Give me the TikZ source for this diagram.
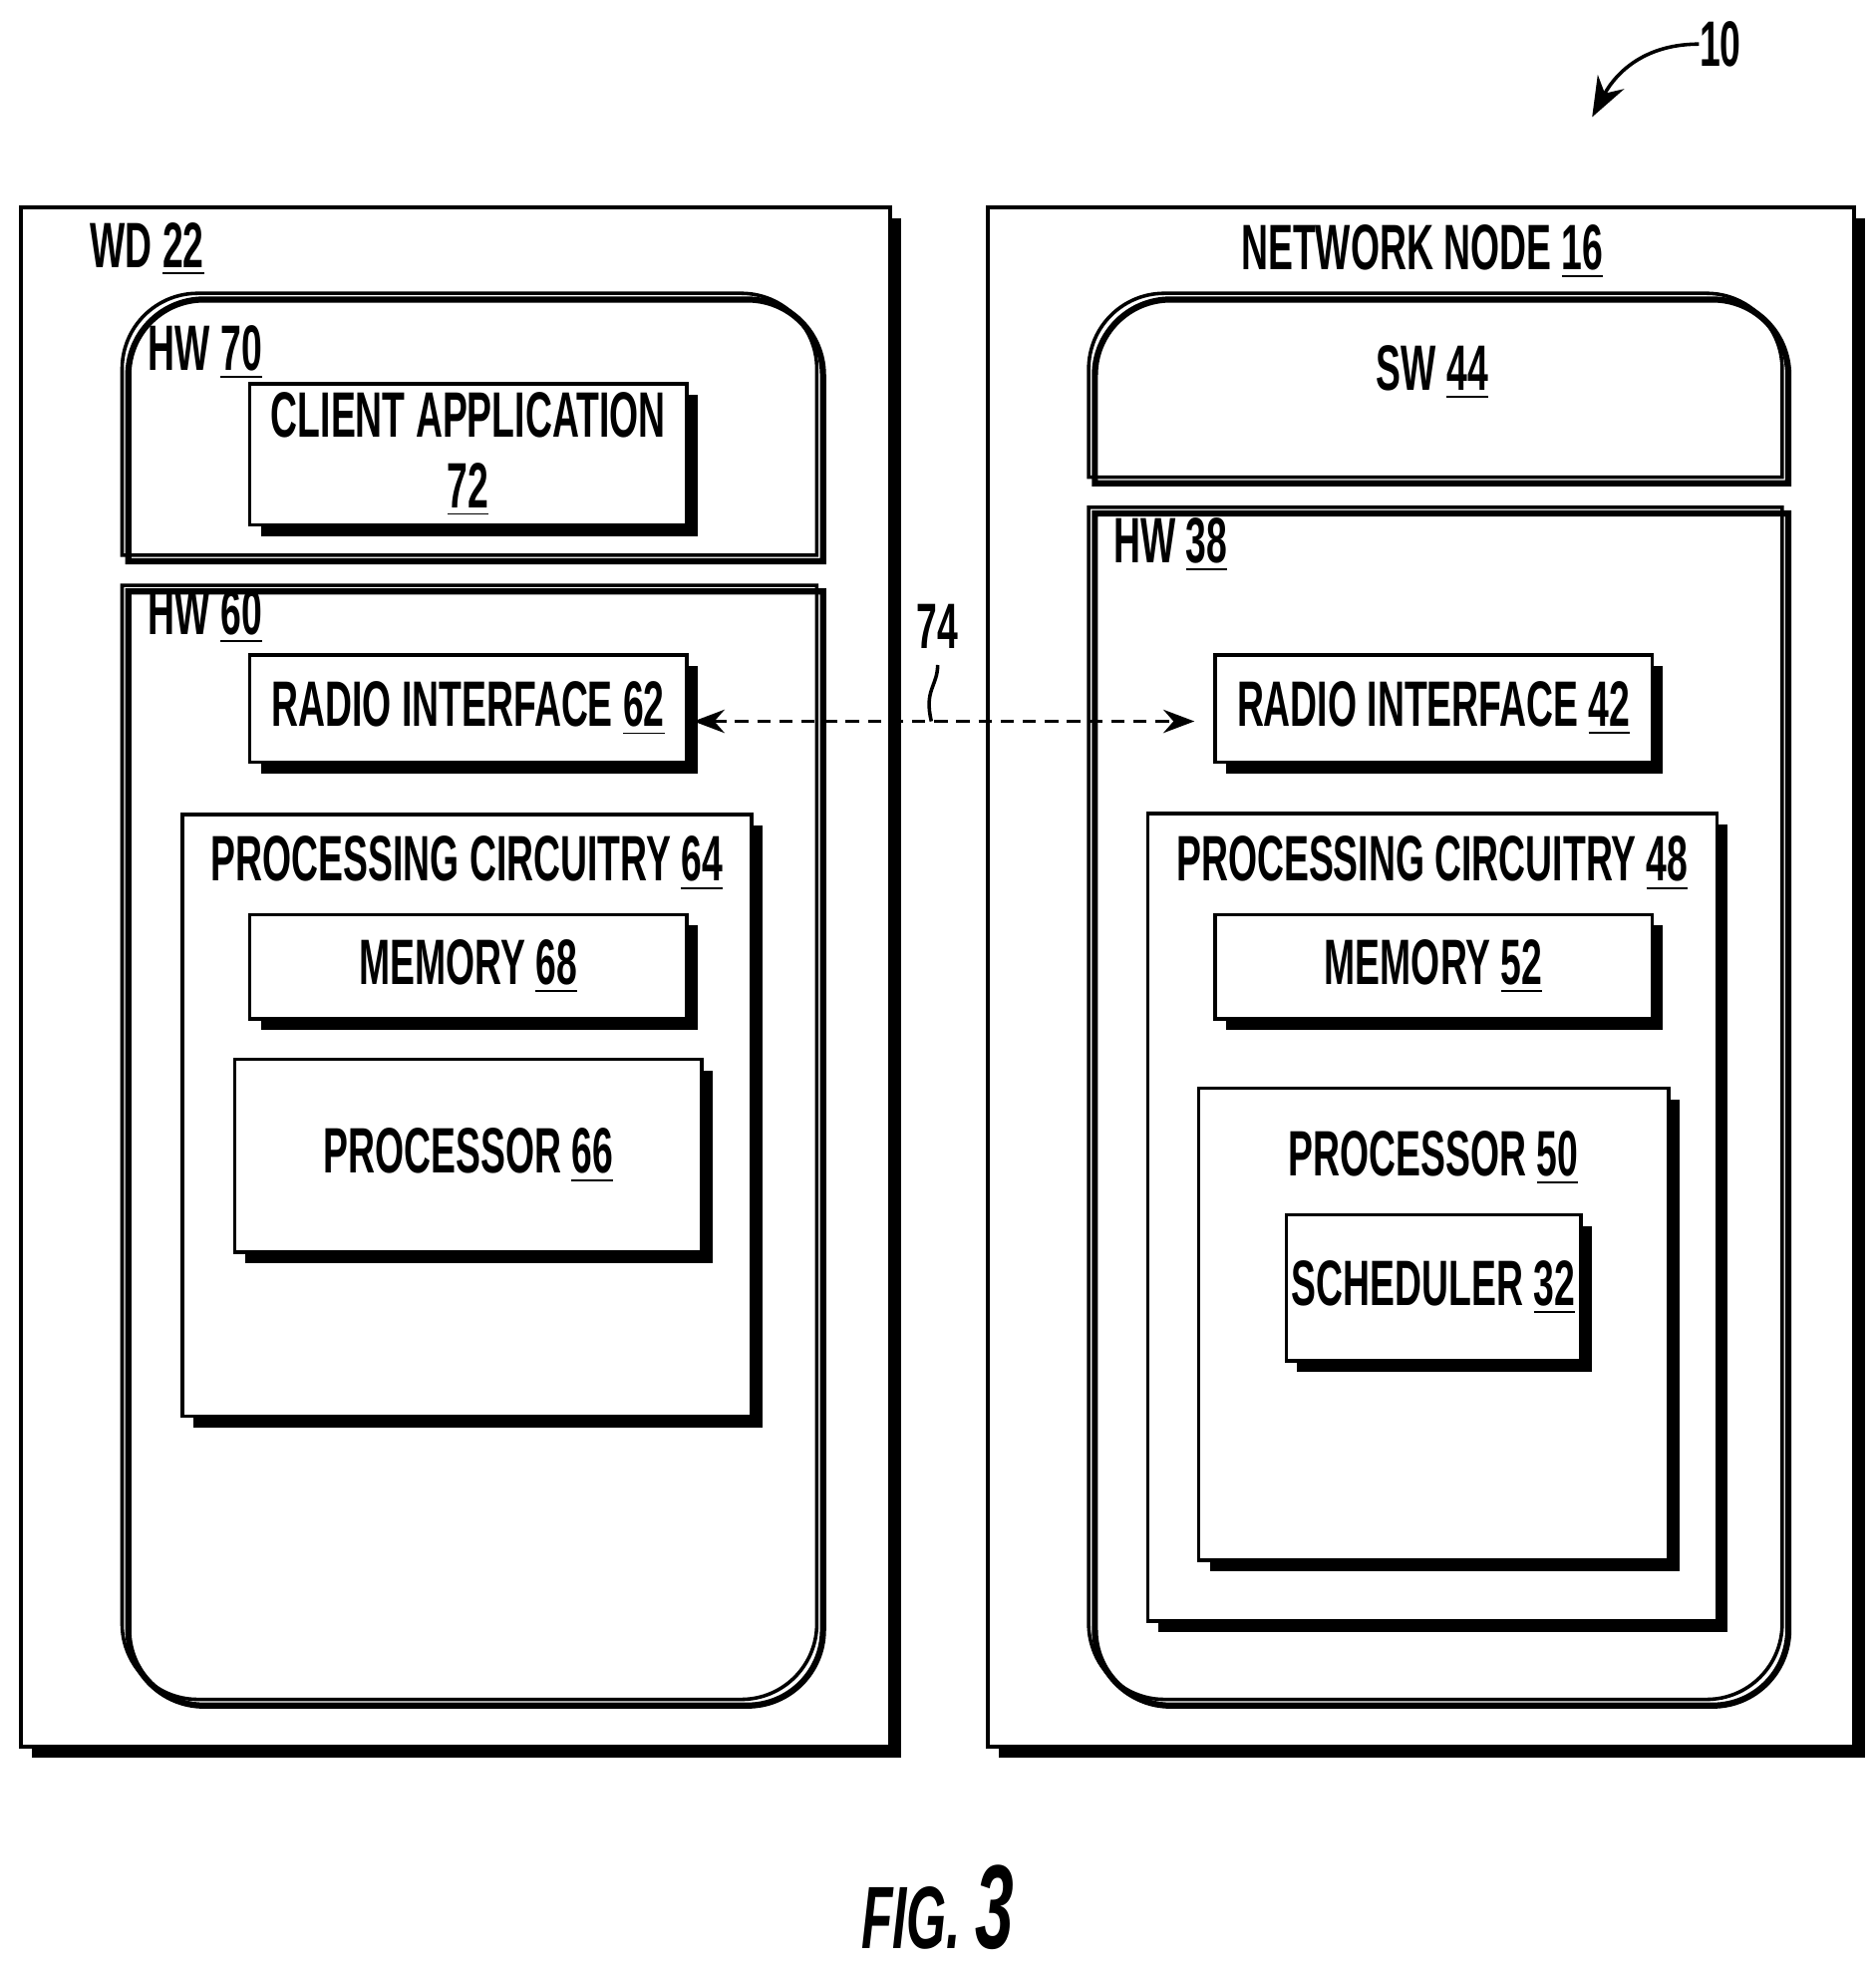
\documentclass[tikz,border=0pt]{standalone}
\usepackage{fontspec}
\setmainfont{Liberation Sans}[FakeStretch=0.58]
\usetikzlibrary{shadows,arrows.meta}
\tikzset{
  shade box/.style={draw,thick,fill=white,inner sep=0pt,
    drop shadow={shadow xshift=2.5pt,shadow yshift=-2.5pt,fill=black,opacity=1}},
  panel/.style={thick,preaction={draw,line width=1.4pt,transform canvas={shift={(1.4pt,-1.4pt)}}}},
  lbl/.style={font=\bfseries\fontsize{14.5}{17}\selectfont,inner sep=0pt}
}
\begin{document}
\begin{tikzpicture}[x=0.01cm,y=-0.01cm]
\useasboundingbox (0,0) rectangle (1490,1565);
% outer boxes
\node[shade box,minimum width=6.9cm,minimum height=12.22cm] (wd) at (362,776) {};
\node[shade box,minimum width=6.88cm,minimum height=12.22cm] (nn) at (1129,776) {};
\node[lbl] (wdl) at (117,198) {WD \underline{22}};
\node[lbl] (nnl) at (1130,200) {NETWORK NODE \underline{16}};
% wireless device side
\draw[panel] (97,441) [rounded corners=0.6cm] -- (97,233) -- (649,233) [sharp corners] -- (649,441) -- cycle;
\node[lbl] (hw70) at (163,280) {HW \underline{70}};
\node[shade box,minimum width=3.47cm,minimum height=1.12cm,lbl,align=center] (app) at (372,361) {CLIENT APPLICATION\\[-1pt]\underline{72}};
\draw[panel] (97,465) -- (649,465) [rounded corners=0.6cm] -- (649,1350) -- (97,1350) [sharp corners] -- cycle;
\node[lbl] (hw60) at (163,490) {HW \underline{60}};
\node[shade box,minimum width=3.47cm,minimum height=0.85cm,lbl] (ri62) at (372,563) {RADIO INTERFACE \underline{62}};
\node[shade box,minimum width=4.52cm,minimum height=4.78cm] (pc64) at (371,886) {};
\node[lbl] (pc64l) at (371,686) {PROCESSING CIRCUITRY \underline{64}};
\node[shade box,minimum width=3.47cm,minimum height=0.83cm,lbl] (mem68) at (372,768) {MEMORY \underline{68}};
\node[shade box,minimum width=3.71cm,minimum height=1.53cm,lbl] (proc66) at (372,918) {PROCESSOR \underline{66}};
% network node side
\draw[panel] (865,379) [rounded corners=0.6cm] -- (865,233) -- (1416,233) [sharp corners] -- (1416,379) -- cycle;
\node[lbl] (sw44) at (1138,296) {SW \underline{44}};
\draw[panel] (865,403) -- (1416,403) [rounded corners=0.6cm] -- (1416,1350) -- (865,1350) [sharp corners] -- cycle;
\node[lbl] (hw38) at (930,433) {HW \underline{38}};
\node[shade box,minimum width=3.47cm,minimum height=0.85cm,lbl] (ri42) at (1139,563) {RADIO INTERFACE \underline{42}};
\node[shade box,minimum width=4.52cm,minimum height=6.41cm] (pc48) at (1138,967) {};
\node[lbl] (pc48l) at (1138,686) {PROCESSING CIRCUITRY \underline{48}};
\node[shade box,minimum width=3.47cm,minimum height=0.83cm,lbl] (mem52) at (1139,768) {MEMORY \underline{52}};
\node[shade box,minimum width=3.73cm,minimum height=3.75cm] (proc50) at (1139,1052) {};
\node[lbl] (proc50l) at (1139,920) {PROCESSOR \underline{50}};
\node[shade box,minimum width=2.34cm,minimum height=1.16cm,lbl] (sch32) at (1139,1023) {SCHEDULER \underline{32}};
% radio link
\coordinate (lk) at (740,573);
\draw[thick,densely dashed,{Stealth[length=7pt]}-{Stealth[length=7pt]}] (ri62.east |- lk) ++(4,0) -- (949,573);
\node[lbl] (l74) at (745,498) {74};
\draw[thick] (l74.south) ++(0,12) .. controls (745,545) and (734,548) .. (lk);
% reference numeral and figure caption
\node[lbl] (l10) at (1367,35) {10};
\draw[thick,-{Stealth[length=9pt]}] (l10.west) .. controls (1300,35) and (1280,65) .. (1265,93);
\node[font=\bfseries\itshape\fontsize{20}{22}\selectfont] (fig) at (745,1515) {FIG. {\fontsize{27}{29}\selectfont 3}};
\end{tikzpicture}
\end{document}
